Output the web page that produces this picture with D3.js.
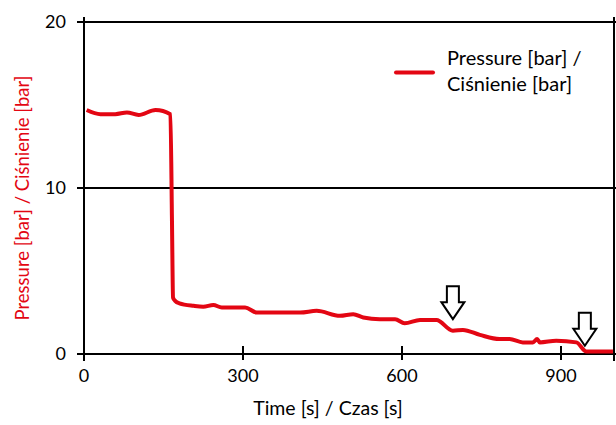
<!DOCTYPE html>
<html>
<head>
<meta charset="utf-8">
<script src="https://cdn.jsdelivr.net/npm/d3@7"></script>
<style>
  body { margin: 0; background: #fff; }
  svg { display: block; font-family: Lato, "Open Sans", sans-serif; }
</style>
</head>
<body>
<div id="chart"></div>
<script>
// pressure trace
var time = [5, 31, 59, 81, 103, 135, 163, 166, 168, 172, 180, 207, 225, 244, 260, 304, 326, 364, 408, 439,
            483, 508, 527, 558, 587, 605, 634, 665, 696, 715, 747, 784, 803, 828, 847, 855, 860, 891, 929, 948, 998];
var pressure = [14.7, 14.45, 14.45, 14.55, 14.4, 14.7, 14.45, 8, 3.4, 3.2, 3.05, 2.9, 2.85, 2.95, 2.8, 2.8, 2.5, 2.5, 2.5, 2.6,
                2.3, 2.4, 2.2, 2.1, 2.1, 1.85, 2.05, 2.05, 1.4, 1.45, 1.15, 0.9, 0.9, 0.7, 0.7, 0.9, 0.7, 0.8, 0.7, 0.15, 0.15];
var xTicks = [0, 300, 600, 900];
var yTicks = [0, 10, 20];
// hollow arrows marking events (tip position)
var arrowTime = [696, 945];
var arrowValue = [2.1, 0.5];

var red = "#e30613";
var w = 616, h = 425;
var margin = {top: 22, right: 2, bottom: 71, left: 84};

var svg = d3.select("#chart").append("svg")
  .attr("width", w)
  .attr("height", h);

var x = d3.scaleLinear().domain([0, 1000]).range([margin.left, w - margin.right]);
var y = d3.scaleLinear().domain([0, 20]).range([h - margin.bottom, margin.top]);

// horizontal grid lines with tick stubs on the left
svg.selectAll("line.grid")
  .data(yTicks)
  .enter()
  .append("line")
  .attr("x1", x(0) - 7)
  .attr("x2", w)
  .attr("y1", function(d) { return y(d); })
  .attr("y2", function(d) { return y(d); })
  .attr("stroke", "#000")
  .attr("stroke-width", 2);

// left and right frame
svg.selectAll("line.frame")
  .data([0, 1000])
  .enter()
  .append("line")
  .attr("x1", function(d) { return x(d); })
  .attr("x2", function(d) { return x(d); })
  .attr("y1", y(20) - 5)
  .attr("y2", y(0) + 7)
  .attr("stroke", "#000")
  .attr("stroke-width", 2);

// x ticks crossing the axis
svg.selectAll("line.xtick")
  .data(xTicks.slice(1))
  .enter()
  .append("line")
  .attr("x1", function(d) { return x(d); })
  .attr("x2", function(d) { return x(d); })
  .attr("y1", y(0) - 8)
  .attr("y2", y(0) + 6)
  .attr("stroke", "#000")
  .attr("stroke-width", 2);

svg.selectAll("text.xlab")
  .data(xTicks)
  .enter()
  .append("text")
  .attr("x", function(d) { return x(d); })
  .attr("y", y(0) + 28)
  .attr("text-anchor", "middle")
  .attr("font-size", "18px")
  .text(function(d) { return d; });

svg.selectAll("text.ylab")
  .data(yTicks)
  .enter()
  .append("text")
  .attr("x", x(0) - 18)
  .attr("y", function(d) { return y(d) + 6; })
  .attr("text-anchor", "end")
  .attr("font-size", "18px")
  .text(function(d) { return d; });

// axis titles
svg.append("text")
  .attr("x", 328)
  .attr("y", 415)
  .attr("text-anchor", "middle")
  .attr("font-size", "19.5px")
  .text("Time [s] / Czas [s]");

svg.append("text")
  .attr("transform", "translate(29,198) rotate(-90)")
  .attr("text-anchor", "middle")
  .attr("font-size", "18.5px")
  .attr("fill", red)
  .text("Pressure [bar] / Ciśnienie [bar]");

// pressure line
var line = d3.line()
  .x(function(d, i) { return x(time[i]); })
  .y(function(d) { return y(d); })
  .curve(d3.curveMonotoneX);

svg.append("path")
  .datum(pressure)
  .attr("d", line)
  .attr("fill", "none")
  .attr("stroke", red)
  .attr("stroke-width", 4)
  .attr("stroke-linejoin", "round");

// arrows
svg.selectAll("path.arrow")
  .data(arrowTime)
  .enter()
  .append("path")
  .attr("transform", function(d, i) {
    return "translate(" + x(d) + "," + y(arrowValue[i]) + ")";
  })
  .attr("d", "M0,0 L-11.5,-17 L-6,-17 L-6,-33 L6,-33 L6,-17 L11.5,-17 Z")
  .attr("fill", "#fff")
  .attr("stroke", "#000")
  .attr("stroke-width", 2)
  .attr("stroke-linejoin", "miter");

// legend
svg.append("line")
  .attr("x1", 396)
  .attr("x2", 433)
  .attr("y1", 72.5)
  .attr("y2", 72.5)
  .attr("stroke", red)
  .attr("stroke-width", 4)
  .attr("stroke-linecap", "round");

var leg = svg.append("text")
  .attr("x", 447)
  .attr("y", 65)
  .attr("font-size", "20px");
leg.append("tspan").attr("x", 447).text("Pressure [bar] /");
leg.append("tspan").attr("x", 447).attr("dy", 26).text("Ciśnienie [bar]");
</script>
</body>
</html>
